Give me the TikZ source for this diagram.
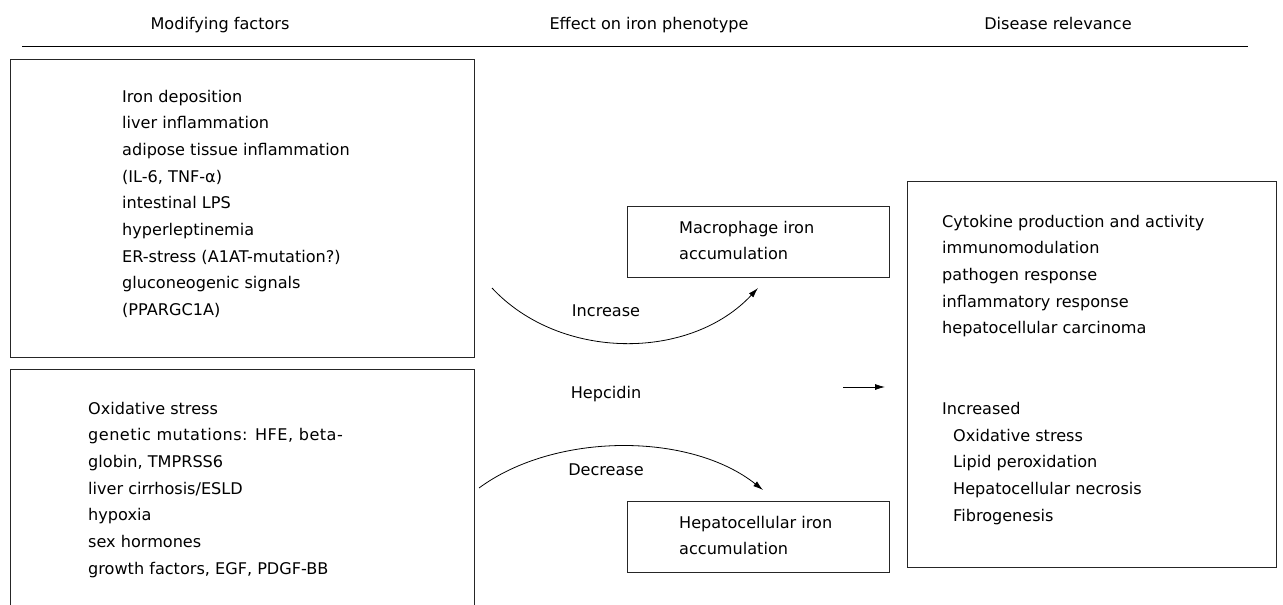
\documentclass[tikz,border=0pt]{standalone}
\usepackage{fontspec}
\setmainfont{DejaVu Sans}
\usetikzlibrary{positioning,arrows.meta}
\tikzset{>={Latex[length=10pt,width=6pt]}}
\tikzset{mybox/.style={draw=black!85,line width=.9pt,inner sep=0pt,anchor=north west}}
\tikzset{mytext/.style={anchor=base west,inner sep=0pt,font=\fontsize{16.1}{26.7}\selectfont}}
\tikzset{myhead/.style={anchor=base,inner sep=0pt,font=\fontsize{16.1}{26.7}\selectfont}}
\tikzset{mylabel/.style={inner sep=0pt,font=\fontsize{16.1}{26.7}\selectfont}}
\tikzset{myedges/.style={->,line width=.8pt}}

\begin{document}
\begin{tikzpicture}[x=1pt,y=-1pt]
    \useasboundingbox (0,0) rectangle (1283,605);
    % column heads
    \node[myhead] (hmod) at (220,29) {Modifying factors};
    \node[myhead] (heff) at (649,29) {Effect on iron phenotype};
    \node[myhead] (hdis) at (1058,29) {Disease relevance};
    \draw[line width=1pt] (22,46) -- (1248,46);

    % boxes
    \node[mybox, minimum width=464pt, minimum height=298pt] (up) at (10,59) {};
    \node[mybox, minimum width=464pt, minimum height=260pt] (down) at (10,369) {};
    \node[mybox, minimum width=262pt, minimum height=71pt] (macro) at (627,206) {};
    \node[mybox, minimum width=262pt, minimum height=71pt] (hepa) at (627,501) {};
    \node[mybox, minimum width=369pt, minimum height=386pt] (dis) at (907,181) {};

    % texts
    \foreach \t [count=\i from 0] in {Iron deposition, liver inflammation,
        adipose tissue inflammation, {(IL-6, TNF-α)}, intestinal LPS,
        hyperleptinemia, {ER-stress (A1AT-mutation?)}, gluconeogenic signals, {(PPARGC1A)}}
        \node[mytext] (up\i) at (122,102+26.7*\i) {\t};
    \foreach \t [count=\i from 0] in {Oxidative stress,
        {\addfontfeatures{LetterSpace=3}genetic mutations: HFE, beta-},
        {globin, TMPRSS6}, liver cirrhosis/ESLD, hypoxia, sex hormones,
        {growth factors, EGF, PDGF-BB}}
        \node[mytext] (down\i) at (88,414+26.7*\i) {\t};
    \foreach \t [count=\i from 0] in {Macrophage iron, accumulation}
        \node[mytext] (macro\i) at (679,233+26*\i) {\t};
    \foreach \t [count=\i from 0] in {Hepatocellular iron, accumulation}
        \node[mytext] (hepa\i) at (679,528+26*\i) {\t};
    \foreach \t [count=\i from 0] in {Cytokine production and activity, immunomodulation,
        pathogen response, inflammatory response, hepatocellular carcinoma}
        \node[mytext] (dis\i) at (942,227+26.7*\i) {\t};
    \node[mytext] (inc) at (942,414) {Increased};
    \foreach \t [count=\i from 0] in {Oxidative stress, Lipid peroxidation,
        Hepatocellular necrosis, Fibrogenesis}
        \node[mytext] (inc\i) at (953,441+26.7*\i) {\t};

    % hepcidin arrows
    \node[mylabel] (hep) at (606,394) {Hepcidin};
    \node[mylabel] (up lab) at (606,311) {Increase};
    \node[mylabel] (down lab) at (606,470) {Decrease};
    \coordinate (inc s) at (492,288);
    \coordinate (inc e) at (758,288);
    \coordinate (dec s) at (479,488);
    \coordinate (dec e) at (763,490);
    \coordinate (hep s) at (843,387);
    \coordinate (hep e) at (885,387);
    \draw[myedges] (inc s) .. controls (560,361) and (690,361) .. (inc e);
    \draw[myedges] (dec s) .. controls (555,432) and (690,432) .. (dec e);
    \draw[myedges] (hep s) -- (hep e);
\end{tikzpicture}
\end{document}
